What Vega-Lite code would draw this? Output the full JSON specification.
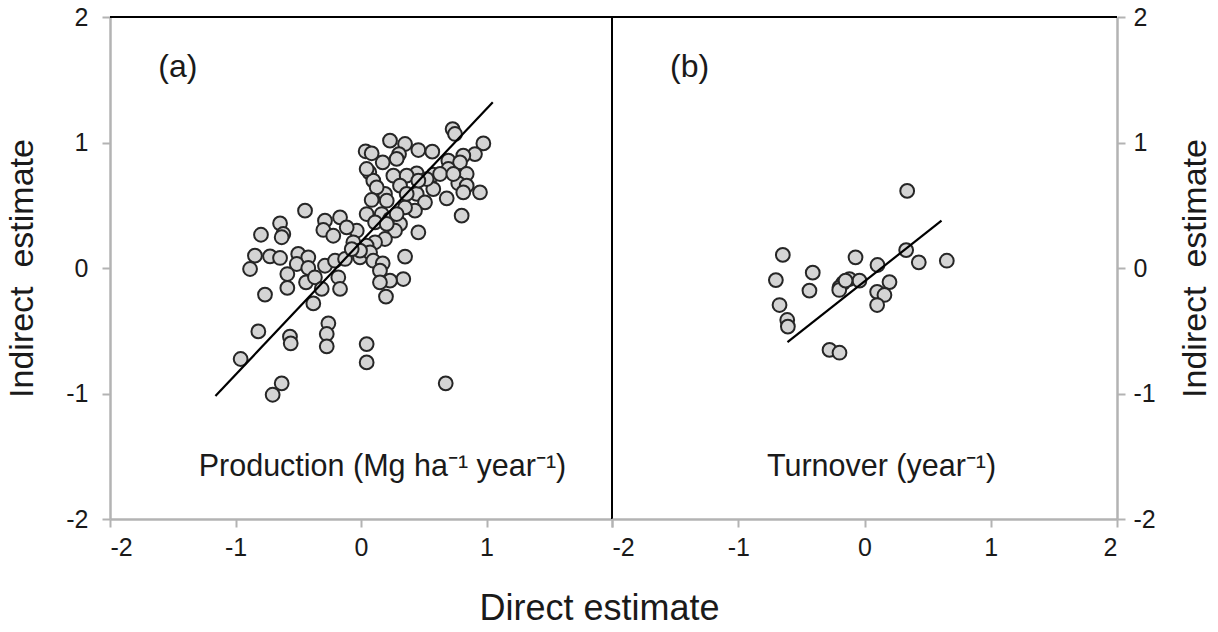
{
  "$schema": "https://vega.github.io/schema/vega-lite/v6.json",
  "background": "white",
  "bounds": "flush",
  "spacing": 0,
  "config": {
    "font": "Liberation Sans",
    "view": {"stroke": null},
    "axis": {
      "grid": false,
      "domainColor": "#b3b3b3",
      "domainWidth": 2.5,
      "tickColor": "#b3b3b3",
      "tickWidth": 2,
      "tickSize": 8,
      "labelFont": "Liberation Sans",
      "labelFontSize": 25,
      "labelColor": "#1a1a1a",
      "titleFont": "Liberation Sans",
      "titleFontSize": 34,
      "titleFontWeight": "normal",
      "titleColor": "#1a1a1a"
    }
  },
  "datasets": {
    "production": [
      {"x": 0.73, "y": 1.107}, {"x": 0.749, "y": 1.068}, {"x": 0.231, "y": 1.015}, {"x": 0.351, "y": 0.988},
      {"x": 0.975, "y": 0.993}, {"x": 0.457, "y": 0.94}, {"x": 0.568, "y": 0.927}, {"x": 0.037, "y": 0.93},
      {"x": 0.085, "y": 0.914}, {"x": 0.303, "y": 0.908}, {"x": 0.173, "y": 0.842}, {"x": 0.284, "y": 0.869},
      {"x": 0.908, "y": 0.908}, {"x": 0.815, "y": 0.895}, {"x": 0.696, "y": 0.855}, {"x": 0.789, "y": 0.842},
      {"x": 0.696, "y": 0.789}, {"x": 0.842, "y": 0.749}, {"x": 0.576, "y": 0.743}, {"x": 0.444, "y": 0.754},
      {"x": 0.258, "y": 0.736}, {"x": 0.364, "y": 0.736}, {"x": 0.066, "y": 0.762}, {"x": 0.098, "y": 0.696},
      {"x": 0.775, "y": 0.675}, {"x": 0.842, "y": 0.656}, {"x": 0.815, "y": 0.603}, {"x": 0.948, "y": 0.603},
      {"x": 0.576, "y": 0.629}, {"x": 0.683, "y": 0.555}, {"x": 0.444, "y": 0.59}, {"x": 0.191, "y": 0.59},
      {"x": 0.125, "y": 0.643}, {"x": 0.311, "y": 0.656}, {"x": 0.51, "y": 0.523}, {"x": 0.43, "y": 0.457},
      {"x": 0.351, "y": 0.483}, {"x": 0.085, "y": 0.542}, {"x": 0.205, "y": 0.536}, {"x": 0.802, "y": 0.417},
      {"x": 0.045, "y": 0.43}, {"x": 0.165, "y": 0.43}, {"x": 0.231, "y": 0.39}, {"x": 0.112, "y": 0.364},
      {"x": 0.311, "y": 0.351}, {"x": 0.271, "y": 0.297}, {"x": 0.457, "y": 0.284}, {"x": 0.191, "y": 0.231},
      {"x": 0.112, "y": 0.205}, {"x": 0.045, "y": 0.178}, {"x": -0.034, "y": 0.297}, {"x": -0.061, "y": 0.205},
      {"x": -0.167, "y": 0.404}, {"x": -0.287, "y": 0.377}, {"x": -0.3, "y": 0.303}, {"x": -0.221, "y": 0.257},
      {"x": -0.114, "y": 0.324}, {"x": -0.446, "y": 0.457}, {"x": -0.645, "y": 0.356}, {"x": -0.619, "y": 0.271},
      {"x": -0.632, "y": 0.245}, {"x": -0.797, "y": 0.265}, {"x": -0.845, "y": 0.098}, {"x": -0.725, "y": 0.093},
      {"x": -0.645, "y": 0.08}, {"x": -0.884, "y": -0.008}, {"x": -0.5, "y": 0.112}, {"x": -0.42, "y": 0.085},
      {"x": -0.512, "y": 0.032}, {"x": -0.42, "y": 0.0}, {"x": -0.587, "y": -0.048}, {"x": -0.587, "y": -0.159},
      {"x": -0.438, "y": -0.114}, {"x": -0.367, "y": -0.074}, {"x": -0.287, "y": 0.018}, {"x": -0.207, "y": 0.058},
      {"x": -0.127, "y": 0.072}, {"x": -0.008, "y": 0.085}, {"x": 0.072, "y": 0.125}, {"x": 0.098, "y": 0.058},
      {"x": 0.173, "y": 0.037}, {"x": 0.151, "y": -0.021}, {"x": 0.351, "y": 0.09}, {"x": 0.337, "y": -0.088},
      {"x": 0.231, "y": -0.101}, {"x": 0.151, "y": -0.114}, {"x": 0.199, "y": -0.228}, {"x": -0.181, "y": -0.074},
      {"x": -0.167, "y": -0.167}, {"x": -0.313, "y": -0.167}, {"x": -0.38, "y": -0.282}, {"x": -0.765, "y": -0.212},
      {"x": -0.818, "y": -0.505}, {"x": -0.566, "y": -0.547}, {"x": -0.56, "y": -0.6}, {"x": -0.26, "y": -0.441},
      {"x": -0.273, "y": -0.526}, {"x": -0.273, "y": -0.624}, {"x": 0.045, "y": -0.606}, {"x": 0.045, "y": -0.752},
      {"x": -0.959, "y": -0.725}, {"x": -0.632, "y": -0.919}, {"x": -0.704, "y": -1.01}, {"x": 0.675, "y": -0.919},
      {"x": -0.008, "y": 0.138}, {"x": -0.074, "y": 0.151}, {"x": 0.284, "y": 0.43}, {"x": 0.205, "y": 0.351},
      {"x": 0.364, "y": 0.59}, {"x": 0.523, "y": 0.709}, {"x": 0.457, "y": 0.696}, {"x": 0.045, "y": 0.789},
      {"x": 0.63, "y": 0.749}, {"x": 0.736, "y": 0.749}
    ],
    "turnover": [
      {"x": 0.338, "y": 0.614}, {"x": -0.647, "y": 0.104}, {"x": -0.071, "y": 0.085}, {"x": 0.33, "y": 0.143},
      {"x": 0.43, "y": 0.045}, {"x": 0.652, "y": 0.058}, {"x": 0.103, "y": 0.024}, {"x": -0.702, "y": -0.096},
      {"x": -0.41, "y": -0.037}, {"x": -0.436, "y": -0.18}, {"x": -0.119, "y": -0.088}, {"x": -0.04, "y": -0.1},
      {"x": -0.17, "y": -0.12}, {"x": -0.198, "y": -0.154}, {"x": -0.2, "y": -0.175}, {"x": -0.15, "y": -0.1},
      {"x": 0.198, "y": -0.112}, {"x": 0.1, "y": -0.19}, {"x": 0.158, "y": -0.215}, {"x": 0.1, "y": -0.295},
      {"x": -0.673, "y": -0.295}, {"x": -0.612, "y": -0.414}, {"x": -0.607, "y": -0.467}, {"x": -0.277, "y": -0.653},
      {"x": -0.198, "y": -0.675}
    ],
    "fitA": [{"x": -1.16, "y": -1.02}, {"x": 1.05, "y": 1.32}],
    "fitB": [{"x": -0.61, "y": -0.59}, {"x": 0.61, "y": 0.377}]
  },
  "hconcat": [
    {
      "width": 502,
      "height": 502,
      "layer": [
        {
          "data": {"values": [{}]},
          "mark": {"type": "rule", "color": "#000000", "strokeWidth": 2},
          "encoding": {"y": {"datum": 2, "type": "quantitative", "scale": {"domain": [-2, 2]}}}
        },
        {
          "data": {"values": [{}]},
          "mark": {"type": "rule", "color": "#000000", "strokeWidth": 2},
          "encoding": {"x": {"datum": 2, "type": "quantitative", "scale": {"domain": [-2, 2]}}}
        },
        {
          "data": {"name": "production"},
          "mark": {"type": "point", "shape": "circle", "filled": true, "fill": "#d4d4d4", "stroke": "#262626", "strokeWidth": 2, "opacity": 1, "size": 190},
          "encoding": {
            "x": {"field": "x", "type": "quantitative", "scale": {"domain": [-2, 2], "nice": false, "zero": false},
              "axis": {"values": [-2, -1, 0, 1, 2], "title": "Direct estimate", "titleFontSize": 36, "titleX": 489, "titleAlign": "center", "titlePadding": 31, "labelPadding": 8, "labelExpr": "datum.value == 2 ? '' : '' + datum.value"}},
            "y": {"field": "y", "type": "quantitative", "scale": {"domain": [-2, 2], "nice": false, "zero": false},
              "axis": {"orient": "left", "values": [-2, -1, 0, 1, 2], "labelExpr": "'' + datum.value", "title": "Indirect \u00a0estimate", "labelPadding": 14, "titlePadding": 26}}
          }
        },
        {
          "data": {"name": "fitA"},
          "mark": {"type": "line", "color": "#000000", "strokeWidth": 2.2},
          "encoding": {
            "x": {"field": "x", "type": "quantitative"},
            "y": {"field": "y", "type": "quantitative"}
          }
        },
        {
          "data": {"values": [{"x": -1.46, "y": 1.6, "label": "(a)"}]},
          "mark": {"type": "text", "fontSize": 32, "font": "Liberation Sans", "color": "#1a1a1a", "align": "center", "baseline": "middle"},
          "encoding": {
            "x": {"field": "x", "type": "quantitative"},
            "y": {"field": "y", "type": "quantitative"},
            "text": {"field": "label"}
          }
        },
        {
          "data": {"values": [{"x": 0.171, "y": -1.586, "label": "Production (Mg ha\u207b\u00b9 year\u207b\u00b9)"}]},
          "mark": {"type": "text", "fontSize": 30.5, "font": "Liberation Sans", "color": "#1a1a1a", "align": "center", "baseline": "middle"},
          "encoding": {
            "x": {"field": "x", "type": "quantitative"},
            "y": {"field": "y", "type": "quantitative"},
            "text": {"field": "label"}
          }
        }
      ]
    },
    {
      "width": 505,
      "height": 502,
      "layer": [
        {
          "data": {"values": [{}]},
          "mark": {"type": "rule", "color": "#000000", "strokeWidth": 2},
          "encoding": {"y": {"datum": 2, "type": "quantitative", "scale": {"domain": [-2, 2]}}}
        },
        {
          "data": {"name": "turnover"},
          "mark": {"type": "point", "shape": "circle", "filled": true, "fill": "#d4d4d4", "stroke": "#262626", "strokeWidth": 2, "opacity": 1, "size": 190},
          "encoding": {
            "x": {"field": "x", "type": "quantitative", "scale": {"domain": [-2, 2], "nice": false, "zero": false},
              "axis": {"values": [-2, -1, 0, 1, 2], "labelExpr": "'' + datum.value", "title": null, "labelPadding": 8}},
            "y": {"field": "y", "type": "quantitative", "scale": {"domain": [-2, 2], "nice": false, "zero": false},
              "axis": {"orient": "right", "values": [-2, -1, 0, 1, 2], "labelExpr": "'' + datum.value", "title": "Indirect \u00a0estimate", "labelPadding": 8, "titlePadding": 23, "titleAngle": 270, "titleBaseline": "top"}}
          }
        },
        {
          "data": {"name": "fitB"},
          "mark": {"type": "line", "color": "#000000", "strokeWidth": 2.2},
          "encoding": {
            "x": {"field": "x", "type": "quantitative"},
            "y": {"field": "y", "type": "quantitative"}
          }
        },
        {
          "data": {"values": [{"x": -1.386, "y": 1.6, "label": "(b)"}]},
          "mark": {"type": "text", "fontSize": 32, "font": "Liberation Sans", "color": "#1a1a1a", "align": "center", "baseline": "middle"},
          "encoding": {
            "x": {"field": "x", "type": "quantitative"},
            "y": {"field": "y", "type": "quantitative"},
            "text": {"field": "label"}
          }
        },
        {
          "data": {"values": [{"x": 0.135, "y": -1.586, "label": "Turnover (year\u207b\u00b9)"}]},
          "mark": {"type": "text", "fontSize": 30.5, "font": "Liberation Sans", "color": "#1a1a1a", "align": "center", "baseline": "middle"},
          "encoding": {
            "x": {"field": "x", "type": "quantitative"},
            "y": {"field": "y", "type": "quantitative"},
            "text": {"field": "label"}
          }
        }
      ]
    }
  ]
}
